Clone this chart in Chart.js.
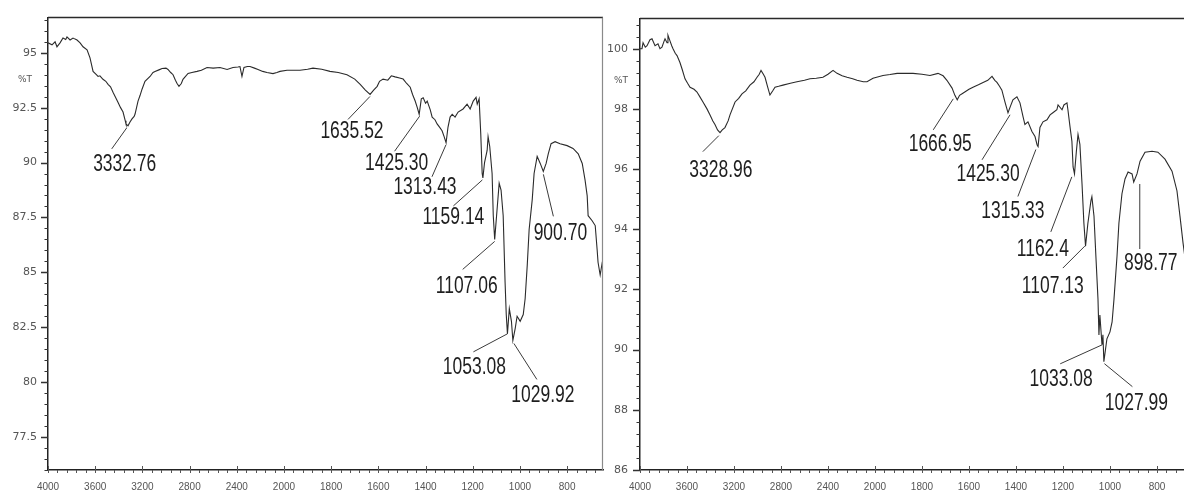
<!DOCTYPE html>
<html>
<head>
<meta charset="utf-8">
<script src="https://cdn.jsdelivr.net/npm/chart.js@4.4.1/dist/chart.umd.min.js"></script>
<style>
  html, body { margin: 0; padding: 0; background: #ffffff; }
  #wrap { position: relative; width: 1184px; height: 493px; overflow: hidden; background: #ffffff; }
  #c1 { position: absolute; left: 0; top: 0; }
  #c2 { position: absolute; left: 592px; top: 0; }
</style>
</head>
<body>
<div id="wrap">
  <canvas id="c1" width="610" height="493"></canvas>
  <canvas id="c2" width="592" height="493"></canvas>
</div>
<script>
// ---------------- DATA ----------------
// Left spectrum (sample A): wavenumber (cm-1) and %T
const wavenumbersA = [4000,3966,3940,3924,3898,3873,3850,3839,3813,3788,3770,3754,3728,3703,3669,3644,3618,3590,3576,3560,3534,3510,3491,3470,3449,3430,3407,3385,3364,3345,3339,3322,3305,3288,3270,3262,3237,3220,3203,3178,3135,3110,3093,3060,3033,3000,2983,2960,2940,2920,2906,2890,2870,2856,2813,2780,2737,2700,2652,2600,2542,2482,2432,2390,2373,2356,2339,2310,2288,2250,2220,2180,2144,2093,2060,2034,1987,1932,1900,1877,1840,1805,1770,1733,1700,1677,1655,1635,1620,1605,1595,1580,1560,1545,1529,1510,1495,1480,1465,1455,1444,1435,1427,1418,1410,1400,1393,1380,1372,1360,1351,1340,1330,1322,1313,1305,1296,1287,1275,1262,1241,1224,1211,1198,1186,1181,1173,1166,1160,1157,1150,1139,1135,1128,1118,1113,1107,1097,1088,1080,1071,1063,1058,1053,1045,1036,1030,1020,1012,999,986,978,969,961,948,940,927,914,901,889,880,868,851,830,800,775,753,736,724,715,711,694,681,673,669,660,652,645];
const transmittanceA = [95.45,95.36,95.5,95.27,95.45,95.67,95.6,95.72,95.58,95.67,95.62,95.58,95.45,95.27,95.13,94.77,94.15,94.0,93.92,93.95,93.79,93.7,93.56,93.45,93.2,93.0,92.75,92.5,92.3,91.9,91.76,91.67,91.85,91.99,92.1,92.21,92.8,93.05,93.34,93.7,93.92,94.1,94.15,94.22,94.28,94.3,94.24,94.1,94.0,93.75,93.6,93.47,93.6,93.79,94.06,94.1,94.15,94.2,94.33,94.3,94.33,94.24,94.33,94.35,94.37,93.92,94.33,94.37,94.37,94.3,94.24,94.15,94.1,94.05,94.1,94.15,94.2,94.2,94.25,94.3,94.25,94.15,94.1,94.0,93.8,93.56,93.3,93.1,93.3,93.47,93.7,93.8,93.75,93.95,93.9,93.85,93.8,93.6,93.43,93.1,92.8,92.5,92.2,92.9,92.95,92.7,92.8,92.4,92.07,91.95,91.76,91.6,91.45,91.2,90.9,91.6,92.07,92.2,92.07,92.3,92.44,92.66,92.44,92.8,92.97,92.66,92.9,91.3,89.5,89.3,90.0,90.55,91.18,90.73,89.5,87.58,86.5,87.85,89.06,88.75,87.58,84.56,83.08,82.2,83.35,82.77,81.9,82.45,83.0,82.77,83.08,83.8,85.33,86.95,88.3,89.5,90.28,89.96,89.6,89.96,90.4,90.86,90.95,90.86,90.77,90.64,90.4,89.96,89.2,88.48,87.58,87.35,87.13,86.05,85.46,84.88,85.4,85.2];

// Right spectrum (sample B)
const wavenumbersB = [4000,3983,3974,3955,3940,3915,3898,3872,3847,3830,3813,3795,3787,3770,3762,3745,3730,3719,3700,3685,3660,3640,3617,3595,3574,3540,3515,3490,3464,3430,3404,3380,3362,3340,3319,3300,3277,3250,3234,3191,3160,3132,3100,3064,3030,3004,2985,2970,2950,2936,2915,2894,2870,2851,2820,2783,2720,2664,2600,2553,2500,2443,2400,2357,2323,2280,2238,2190,2153,2100,2068,2017,1966,1936,1906,1870,1838,1800,1766,1732,1710,1694,1672,1660,1650,1640,1626,1600,1583,1560,1540,1520,1502,1490,1481,1470,1460,1447,1434,1423,1413,1396,1383,1370,1362,1349,1332,1319,1310,1306,1298,1285,1268,1255,1243,1226,1221,1204,1196,1183,1179,1170,1162,1157,1151,1143,1136,1128,1119,1111,1104,1094,1081,1077,1068,1060,1051,1047,1043,1034,1030,1026,1013,1000,991,983,970,962,949,936,923,906,899,885,872,851,821,796,766,736,715,702,689,680];
const transmittanceB = [100.0,100.0,100.2,100.05,100.1,100.3,100.33,100.1,100.16,100.0,100.05,100.25,100.33,100.2,100.45,100.26,100.1,100.0,99.85,99.77,99.54,99.3,99.0,98.85,98.72,98.65,98.56,98.4,98.23,98.0,97.8,97.6,97.48,97.3,97.21,97.3,97.38,97.6,97.8,98.23,98.35,98.5,98.6,98.79,98.9,99.05,99.15,99.28,99.15,99.05,98.75,98.46,98.6,98.72,98.75,98.79,98.85,98.9,98.95,99.0,99.02,99.05,99.15,99.28,99.18,99.1,99.05,99.0,98.95,98.9,98.9,99.02,99.11,99.14,99.18,99.18,99.18,99.15,99.11,99.18,99.1,98.95,98.69,98.45,98.3,98.45,98.52,98.65,98.72,98.8,98.88,98.95,99.08,98.95,98.88,98.75,98.62,98.23,97.87,98.1,98.3,98.4,98.2,97.74,97.48,97.57,97.25,97.08,96.8,96.75,97.38,97.57,97.64,97.8,97.87,97.97,98.13,97.97,98.13,98.2,97.97,97.4,96.92,96.07,95.84,96.59,97.15,96.82,95.51,94.2,93.44,94.2,94.95,95.08,94.43,93.11,91.67,90.49,91.15,90.16,90.49,89.6,90.36,90.59,90.92,91.67,93.11,94.2,95.18,95.67,95.9,95.84,95.57,95.84,96.26,96.56,96.59,96.56,96.33,95.93,95.28,94.43,93.54,93.0];

// Peak annotations (wavenumber label, %T at the peak)
const peakLabelsA = ['3332.76','1635.52','1425.30','1313.43','1159.14','1107.06','1053.08','1029.92','900.70'];
const peakWnA = [3332.76,1635.52,1425.30,1313.43,1159.14,1107.06,1053.08,1029.92,900.70];
const peakTA = [91.67,93.1,92.2,90.9,89.3,86.5,82.2,81.9,89.6];

const peakLabelsB = ['3328.96','1666.95','1425.30','1315.33','1162.4','1107.13','1033.08','1027.99','898.77'];
const peakWnB = [3328.96,1666.95,1425.30,1315.33,1162.4,1107.13,1033.08,1027.99,898.77];
const peakTB = [97.21,98.4,97.87,96.75,95.84,93.44,90.16,89.6,95.57];

// Tick labels
const xTickLabels = [4000,3600,3200,2800,2400,2000,1800,1600,1400,1200,1000,800];
const yTicksA = [77.5,80,82.5,85,87.5,90,92.5,95];
const yTicksB = [86,88,90,92,94,96,98,100];

// ---------------- LAYOUT (pixel offsets of leader lines / labels from each peak) ----------------
// [startDx, startDy, endDx, endDy, textDx, textDy]
const labelLayoutA = [
  [0,2,-15,23,-2,39],[0,2,-22,25,-18,37],[0,2,-25,37,-23,49],[0,2,-14,34,-21,45],
  [0,2,-29,28,-29,40],[0,2,-32,30,-28,47],[0,0,-34,18,-33,34],[1,3,24,39,30,55],[0,3,10,45,17,62]
];
const labelLayoutB = [
  [0,3,-16,19,2,38],[0,2,-20,33,-13,48],[0,2,-28,47,-22,62],[0,3,-18,50,-23,65],
  [0,3,-21,58,-29,76],[0,0,-22,22,-32,41],[0,0,-42,19,-41,35],[1,2,29,25,33,42],[6,2,6,67,17,82]
];

// Broken wavenumber axis: 4000-2000 is compressed by a factor 2
const toAxis = wn => wn > 2000 ? 2000 + (wn - 2000) / 2 : wn;
const fromAxis = u => u > 2000 ? 2000 + (u - 2000) * 2 : u;

const decorPlugin = {
  id: 'ftirDecor',
  afterDraw(chart, args, o) {
    const ctx = chart.ctx;
    const {left, right, top, bottom} = chart.chartArea;
    const x = chart.scales.x, y = chart.scales.y;
    ctx.save();
    // frame
    ctx.lineWidth = 1.5;
    ctx.strokeStyle = '#2a2a2a';
    ctx.beginPath(); ctx.moveTo(left, top); ctx.lineTo(right, top); ctx.stroke();
    if (o.rightBorder) {
      ctx.lineWidth = 1.2; ctx.strokeStyle = '#8a8a8a';
      ctx.beginPath(); ctx.moveTo(right - 0.5, top); ctx.lineTo(right - 0.5, bottom); ctx.stroke();
    }
    // y ticks
    ctx.strokeStyle = '#333'; ctx.lineWidth = 1.3;
    ctx.beginPath();
    o.yTicks.forEach(v => { const p = Math.round(y.getPixelForValue(v)) + 0.5; ctx.moveTo(left - 7, p); ctx.lineTo(left, p); });
    ctx.stroke();
    ctx.lineWidth = 1.2;
    ctx.beginPath();
    const n0 = Math.ceil(y.min / o.yMinor - 1e-6), n1 = Math.floor(y.max / o.yMinor + 1e-6);
    for (let n = n0; n <= n1; n++) {
      const p = Math.round(y.getPixelForValue(n * o.yMinor)) + 0.5;
      ctx.moveTo(left - 3.5, p); ctx.lineTo(left, p);
    }
    ctx.stroke();
    // x ticks: majors inside, minors outside
    ctx.lineWidth = 1;
    ctx.strokeStyle = '#555';
    ctx.beginPath();
    xTickLabels.forEach(w => { const p = Math.round(x.getPixelForValue(toAxis(w))) + 0.5; ctx.moveTo(p, bottom); ctx.lineTo(p, bottom - 4); });
    const m0 = Math.ceil(x.min / o.xMinor), m1 = Math.floor(x.max / o.xMinor);
    for (let m = m0; m <= m1; m++) {
      const p = Math.round(x.getPixelForValue(m * o.xMinor)) + 0.5;
      ctx.moveTo(p, bottom); ctx.lineTo(p, bottom + 3);
    }
    ctx.stroke();
    // %T
    ctx.fillStyle = '#555';
    ctx.font = '9px "DejaVu Sans"';
    ctx.textAlign = 'center'; ctx.textBaseline = 'middle';
    ctx.fillText('%T', left - o.titleDx, top + 62);
    // peak annotations
    ctx.strokeStyle = '#3a3a3a'; ctx.lineWidth = 1;
    ctx.fillStyle = '#1e1e1e';
    ctx.font = '23px "Liberation Sans", Arial, sans-serif';
    o.peakWn.forEach((w, i) => {
      const px = x.getPixelForValue(toAxis(w));
      const py = y.getPixelForValue(o.peakT[i]);
      const L = o.layout[i];
      ctx.beginPath();
      ctx.moveTo(px + L[0], py + L[1]);
      ctx.lineTo(px + L[2], py + L[3]);
      ctx.stroke();
      ctx.save();
      ctx.translate(px + L[4], py + L[5]);
      ctx.scale(0.76, 1);
      ctx.fillText(o.peakLabels[i], 0, 0);
      ctx.restore();
    });
    ctx.restore();
  }
};

function makeChart(id, wn, t, cfg) {
  const points = wn.map((w, i) => ({x: toAxis(w), y: t[i]}));
  return new Chart(document.getElementById(id), {
    type: 'scatter',
    data: { datasets: [{ data: points, showLine: true, borderColor: '#2b2b2b', borderWidth: 1.1, pointRadius: 0, tension: 0, fill: false }] },
    plugins: [decorPlugin],
    options: {
      responsive: false,
      animation: false,
      events: [],
      layout: { padding: { top: 13, right: cfg.rightPad, left: 0, bottom: 0 } },
      plugins: {
        legend: { display: false },
        tooltip: { enabled: false },
        ftirDecor: {
          rightBorder: cfg.rightBorder, yTicks: cfg.yTicks, yMinor: cfg.yMinor, xMinor: 40,
          titleDx: cfg.titleDx, peakWn: cfg.peakWn, peakT: cfg.peakT, peakLabels: cfg.peakLabels, layout: cfg.layout
        }
      },
      scales: {
        x: {
          type: 'linear', reverse: true, min: cfg.xMinU, max: 3000,
          afterBuildTicks: s => { s.ticks = xTickLabels.map(w => ({value: toAxis(w)})); },
          afterFit: s => { s.height = 23; },
          ticks: { autoSkip: false, maxRotation: 0, minRotation: 0, padding: 11, color: '#555',
                   font: { family: 'Liberation Sans', size: 10 }, callback: v => String(fromAxis(v)) },
          grid: { display: false, drawTicks: false },
          border: { display: true, color: '#222', width: 1.5 }
        },
        y: {
          type: 'linear', min: cfg.yMin, max: cfg.yMax,
          afterBuildTicks: s => { s.ticks = cfg.yTicks.map(v => ({value: v})); },
          afterFit: s => { s.width = 48; },
          ticks: { padding: cfg.yPad, color: '#555', font: { family: 'DejaVu Sans', size: 11 }, callback: v => String(v) },
          grid: { display: false, drawTicks: false },
          border: { display: true, color: '#222', width: 1.5 }
        }
      }
    }
  });
}

makeChart('c1', wavenumbersA, transmittanceA, {
  rightPad: 7, rightBorder: true, xMinU: 648, yMin: 76.0, yMax: 96.6, yTicks: yTicksA, yMinor: 0.5, yPad: 11, titleDx: 23,
  peakWn: peakWnA, peakT: peakTA, peakLabels: peakLabelsA, layout: labelLayoutA
});
makeChart('c2', wavenumbersB, transmittanceB, {
  rightPad: 0, rightBorder: false, xMinU: 685, yMin: 86, yMax: 101, yTicks: yTicksB, yMinor: 0.4, yPad: 12, titleDx: 19,
  peakWn: peakWnB, peakT: peakTB, peakLabels: peakLabelsB, layout: labelLayoutB
});
</script>
</body>
</html>
